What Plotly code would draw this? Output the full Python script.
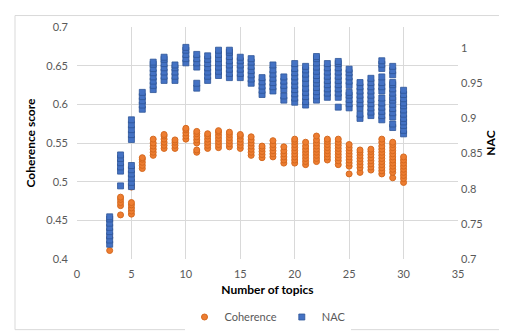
import plotly.graph_objects as go

topics = list(range(3, 31))

coherence_by_topic = [
    [0.411, 0.428],
    [0.457, 0.469, 0.473, 0.477, 0.480],
    [0.458, 0.462, 0.466, 0.470, 0.473, 0.493],
    [0.517, 0.521, 0.525, 0.529, 0.531],
    [0.534, 0.538, 0.542, 0.546, 0.550, 0.555],
    [0.543, 0.547, 0.551, 0.555, 0.559, 0.561],
    [0.543, 0.547, 0.551, 0.554],
    [0.555, 0.559, 0.563, 0.567, 0.569],
    [0.538, 0.541, 0.550, 0.554, 0.558, 0.562, 0.565],
    [0.543, 0.547, 0.551, 0.555, 0.559, 0.562],
    [0.544, 0.548, 0.552, 0.556, 0.560, 0.564, 0.566],
    [0.545, 0.549, 0.553, 0.557, 0.561, 0.564],
    [0.543, 0.547, 0.551, 0.555, 0.559, 0.561],
    [0.534, 0.538, 0.542, 0.546, 0.550, 0.554, 0.558],
    [0.531, 0.535, 0.539, 0.543, 0.546],
    [0.532, 0.536, 0.540, 0.544, 0.548, 0.553],
    [0.524, 0.528, 0.532, 0.536, 0.540, 0.545],
    [0.524, 0.528, 0.532, 0.536, 0.540, 0.544, 0.548, 0.552, 0.555],
    [0.522, 0.526, 0.530, 0.534, 0.538, 0.542, 0.546, 0.551],
    [0.526, 0.530, 0.534, 0.538, 0.542, 0.546, 0.550, 0.554, 0.559],
    [0.528, 0.532, 0.536, 0.540, 0.544, 0.548, 0.552, 0.555],
    [0.522, 0.527, 0.531, 0.535, 0.539, 0.543, 0.547, 0.551, 0.555],
    [0.510, 0.520, 0.524, 0.528, 0.532, 0.536, 0.540, 0.544, 0.548],
    [0.512, 0.518, 0.522, 0.526, 0.530, 0.534, 0.538, 0.541],
    [0.515, 0.519, 0.523, 0.527, 0.531, 0.535, 0.539, 0.542],
    [0.510, 0.514, 0.518, 0.522, 0.526, 0.530, 0.534, 0.538, 0.542, 0.546, 0.551, 0.555],
    [0.505, 0.512, 0.516, 0.520, 0.524, 0.528, 0.532, 0.536, 0.540, 0.544, 0.548, 0.551],
    [0.499, 0.504, 0.508, 0.512, 0.516, 0.520, 0.524, 0.528, 0.532],
]

nac_by_topic = [
    [0.721, 0.727, 0.733, 0.739, 0.745, 0.751, 0.757, 0.760],
    [0.804, 0.825, 0.831, 0.837, 0.843, 0.848],
    [0.803, 0.809, 0.815, 0.821, 0.827, 0.833, 0.870, 0.877, 0.884, 0.891, 0.898],
    [0.913, 0.919, 0.925, 0.931, 0.937],
    [0.941, 0.947, 0.953, 0.959, 0.965, 0.971, 0.977, 0.980],
    [0.954, 0.960, 0.966, 0.972, 0.978, 0.984, 0.987],
    [0.954, 0.960, 0.966, 0.972, 0.976],
    [0.979, 0.985, 0.991, 0.997, 1.001],
    [0.943, 0.950, 0.973, 0.979, 0.985, 0.991],
    [0.954, 0.960, 0.966, 0.972, 0.978, 0.984, 0.989],
    [0.961, 0.967, 0.973, 0.979, 0.985, 0.991, 0.997],
    [0.958, 0.964, 0.970, 0.976, 0.982, 0.988, 0.994, 0.997],
    [0.958, 0.964, 0.970, 0.976, 0.982, 0.987],
    [0.950, 0.956, 0.962, 0.968, 0.974, 0.980, 0.985],
    [0.934, 0.940, 0.946, 0.952, 0.958],
    [0.939, 0.945, 0.951, 0.957, 0.963, 0.969, 0.976],
    [0.926, 0.932, 0.941, 0.947, 0.953, 0.959],
    [0.923, 0.929, 0.935, 0.941, 0.947, 0.953, 0.959, 0.965, 0.971, 0.978],
    [0.919, 0.924, 0.931, 0.937, 0.943, 0.950, 0.957, 0.963, 0.969, 0.974],
    [0.926, 0.932, 0.938, 0.944, 0.950, 0.955, 0.961, 0.967, 0.973, 0.979, 0.985, 0.988],
    [0.930, 0.936, 0.942, 0.948, 0.954, 0.960, 0.966, 0.972, 0.978],
    [0.916, 0.930, 0.936, 0.942, 0.948, 0.954, 0.960, 0.966, 0.972, 0.978, 0.981],
    [0.915, 0.921, 0.927, 0.933, 0.937, 0.947, 0.953, 0.959, 0.965, 0.970],
    [0.900, 0.906, 0.915, 0.921, 0.927, 0.933, 0.939, 0.945, 0.951],
    [0.904, 0.909, 0.915, 0.921, 0.927, 0.933, 0.939, 0.945, 0.951, 0.957],
    [0.898, 0.904, 0.910, 0.916, 0.922, 0.929, 0.939, 0.945, 0.951, 0.959, 0.971, 0.977, 0.982],
    [0.887, 0.892, 0.902, 0.908, 0.914, 0.920, 0.926, 0.930, 0.936, 0.942, 0.948, 0.951, 0.962, 0.968, 0.974],
    [0.878, 0.883, 0.890, 0.895, 0.900, 0.906, 0.912, 0.918, 0.922, 0.928, 0.934, 0.940],
]

x_ticks = [0, 5, 10, 15, 20, 25, 30, 35]
left_ticks = [0.4, 0.45, 0.5, 0.55, 0.6, 0.65, 0.7]
right_ticks = [0.7, 0.75, 0.8, 0.85, 0.9, 0.95, 1.0]

coh_x = [t for t, vals in zip(topics, coherence_by_topic) for _ in vals]
coh_y = [v for vals in coherence_by_topic for v in vals]
nac_x = [t for t, vals in zip(topics, nac_by_topic) for _ in vals]
nac_y = [v for vals in nac_by_topic for v in vals]

FONT = "Lato, 'Open Sans', sans-serif"
GRAY = "#595959"

fig = go.Figure()
fig.add_trace(go.Scatter(
    x=coh_x, y=coh_y, mode="markers", name="Coherence",
    marker=dict(symbol="circle", size=6, color="#ED7D31",
                line=dict(color="#D5691F", width=1)),
))
fig.add_trace(go.Scatter(
    x=nac_x, y=nac_y, mode="markers", name="NAC", yaxis="y2",
    marker=dict(symbol="square", size=6, color="#4472C4",
                line=dict(color="#2F5597", width=0.8)),
))

fig.update_layout(
    width=507, height=336,
    margin=dict(l=69, r=57, t=15, b=78),
    paper_bgcolor="white", plot_bgcolor="white",
    font=dict(family=FONT, size=11, color=GRAY),
    showlegend=True,
    legend=dict(orientation="h", x=0.5, xanchor="center", y=-0.25, yanchor="middle",
                font=dict(size=11, color=GRAY), itemwidth=30, tracegroupgap=0),
    xaxis=dict(range=[0, 35], tickvals=x_ticks, showgrid=True, gridcolor="#D9D9D9",
               gridwidth=1, zeroline=False, showline=False, ticks="",
               ticklabelstandoff=7,
               tickfont=dict(size=11, color=GRAY),
               title=dict(text="<b>Number of topics</b>", font=dict(size=12, color="black"),
                          standoff=6)),
    yaxis=dict(range=[0.4, 0.7], tickvals=left_ticks, ticktext=[f"{v:g}" for v in left_ticks],
               showgrid=True, gridcolor="#D9D9D9", gridwidth=1, zeroline=False,
               showline=False, ticks="", ticklabelstandoff=8,
               tickfont=dict(size=11, color=GRAY),
               title=dict(text="<b>Coherence score</b>", font=dict(size=12, color="black"),
                          standoff=8)),
    yaxis2=dict(range=[0.7, 1.03], tickvals=right_ticks, ticktext=[f"{v:g}" for v in right_ticks],
                overlaying="y", side="right", showgrid=False, zeroline=False,
                showline=False, ticks="", ticklabelstandoff=2,
                tickfont=dict(size=11, color=GRAY),
                title=dict(text="<b>NAC</b>", font=dict(size=12, color="black"),
                           standoff=2)),
    shapes=[dict(type="rect", xref="paper", yref="paper",
                 x0=-62 / 381, x1=(381 + 50) / 381, y0=-74 / 243, y1=1 + 12 / 243,
                 line=dict(color="#D9D9D9", width=1), fillcolor="rgba(0,0,0,0)",
                 layer="below")],
)

fig.write_html("out.html")
